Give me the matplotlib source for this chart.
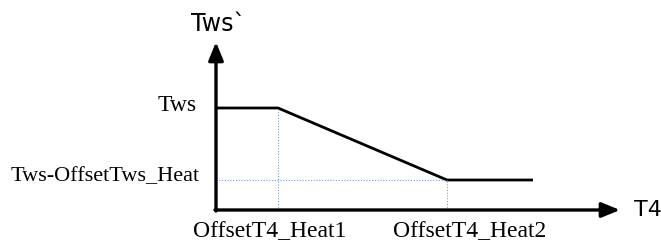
import matplotlib
matplotlib.use("Agg")
import matplotlib.pyplot as plt

# Data (abstract units, origin at the axes crossing)
t4_points = [0, 62, 231, 317]
tws_points = [102, 102, 30, 30]
x_break_labels = ["OffsetT4_Heat1", "OffsetT4_Heat2"]
y_level_labels = ["Tws", "Tws-OffsetTws_Heat"]
x_axis_label = "T4"
y_axis_label = "Tws`"

W, H = 661, 244
fig = plt.figure(figsize=(W / 100, H / 100), dpi=100)
fig.patch.set_facecolor("white")
ox, oy = 216, 210
xmax, ymax = 404, 168
ax = fig.add_axes([ox / W, (H - oy) / H, xmax / W, ymax / H])
ax.set_xlim(0, xmax)
ax.set_ylim(0, ymax)
ax.axis("off")

# axes arrows
ax.annotate("", xy=(xmax, 0), xytext=(-1, 0), annotation_clip=False,
            arrowprops=dict(arrowstyle="-|>,head_length=1.1,head_width=0.45",
                            color="black", lw=2.4, shrinkA=0, shrinkB=0))
ax.annotate("", xy=(0, ymax), xytext=(0, -1), annotation_clip=False,
            arrowprops=dict(arrowstyle="-|>,head_length=1.1,head_width=0.45",
                            color="black", lw=2.4, shrinkA=0, shrinkB=0))

# curve
ax.plot(t4_points, tws_points, color="black", lw=2.0, solid_capstyle="butt", clip_on=False)

# dotted guides
dc = "#7f9bd6"
ax.plot([t4_points[1], t4_points[1]], [0, tws_points[1]], color=dc, lw=0.8, ls=(0, (1, 1.5)))
ax.plot([0, t4_points[2]], [tws_points[2], tws_points[2]], color=dc, lw=0.8, ls=(0, (1, 1.5)))
ax.plot([t4_points[2], t4_points[2]], [0, tws_points[2]], color=dc, lw=0.8, ls=(0, (1, 1.5)))

serif = ["Liberation Serif", "DejaVu Serif"]
sans = ["DejaVu Sans"]

ax.text(-19, tws_points[0] + 3, y_level_labels[0], ha="right", va="center",
        fontsize=17, family=serif, clip_on=False)
ax.text(-16, tws_points[2] + 3, y_level_labels[1], ha="right", va="center",
        fontsize=16, family=serif, clip_on=False)
ax.text(t4_points[1] - 8, -22, x_break_labels[0], ha="center", va="center",
        fontsize=17, family=serif, clip_on=False)
ax.text(t4_points[2] + 23, -22, x_break_labels[1], ha="center", va="center",
        fontsize=17, family=serif, clip_on=False)
ax.text(-25, ymax + 18, y_axis_label, ha="left", va="center",
        fontsize=17, family=sans, clip_on=False)
ax.text(xmax + 14, 0, x_axis_label, ha="left", va="center",
        fontsize=16, family=sans, clip_on=False)

fig.savefig("out.png", dpi=100, facecolor="white")
